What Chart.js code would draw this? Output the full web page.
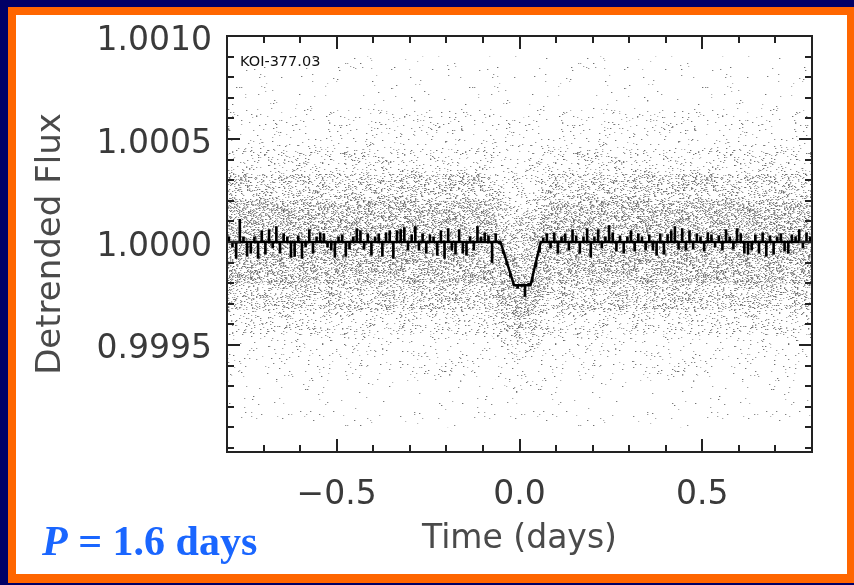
<!DOCTYPE html>
<html>
<head>
<meta charset="utf-8">
<script src="https://cdn.jsdelivr.net/npm/chart.js@4"></script>
<style>
html,body{margin:0;padding:0;width:854px;height:585px;overflow:hidden;background:#000066;}
#frame{position:absolute;left:8px;top:7px;width:846px;height:576px;background:#ff6600;}
#panel{position:absolute;left:16px;top:15px;width:831px;height:559px;background:#ffffff;}
#wrap{position:absolute;left:0;top:0;width:854px;height:585px;}
#period{position:absolute;left:42px;top:520px;font-family:"Liberation Serif","Times New Roman",serif;font-weight:bold;font-size:42px;line-height:42px;color:#1a66ff;white-space:nowrap;}
#period i{font-style:italic;}
#koi{position:absolute;left:240px;top:53px;font-family:"DejaVu Sans",sans-serif;font-size:14.5px;line-height:16px;color:#111;white-space:nowrap;}
</style>
</head>
<body>
<div id="frame"></div>
<div id="panel"></div>
<div id="wrap"><canvas id="c" width="854" height="585"></canvas></div>
<div id="koi">KOI-377.03</div>
<div id="period"><i>P</i> = 1.6 days</div>
<script>
// ---- data ----
// binned light curve: deviation from 1 in ppm, bins of 0.01 day starting at -0.795 d
const binStart = -0.795;
const binWidth = 0.01;
const binnedPpm = [
  25,-25,-80,110,25,-70,-55,25,-80,55,
  -60,60,-30,75,-55,40,25,-75,-70,30,
  -80,-25,60,-55,25,45,40,-25,-40,-75,
  25,35,-70,-35,25,65,55,-35,40,-65,
  25,40,-70,45,55,-80,55,60,70,-40,
  35,75,-40,40,-55,35,25,-65,55,-80,
  65,-40,-60,60,-55,-65,25,-40,75,25,
  45,30,-100,40,-10,-55,-110,-170,-205,-225,
  -215,-265,-200,-195,-120,-50,20,40,-30,45,
  -55,25,40,-40,60,30,-55,25,65,-75,
  25,60,-30,25,80,45,-45,30,-55,25,
  55,-45,40,25,-40,35,-40,-65,40,-60,
  35,55,75,-35,65,-40,55,-35,40,25,
  -45,45,35,-25,30,-40,60,25,-35,65,
  40,-55,-60,-40,35,-55,45,-70,30,-60,
  25,40,-45,-55,35,25,60,-30,45,25
];
// transit model
const modelT = [-0.8, -0.052, -0.015, 0.03, 0.058, 0.8];
const modelFlux = [1.0, 1.0, 0.99979, 0.99979, 1.0, 1.0];
// scatter cloud: envelopes (ppm from 1) of density bands, sparse -> dense
const cloudT = [-0.8, -0.08, -0.04, 0.0, 0.04, 0.08, 0.8];
const cloudUpperPpm = [
  [900, 900, 900, 900, 900, 900, 900],
  [650, 650, 620, 600, 620, 650, 650],
  [450, 450, 380, 330, 380, 450, 450],
  [330, 330, 200, 120, 200, 330, 330],
  [200, 200, 20, -80, 40, 200, 200]
];
const cloudLowerPpm = [
  [-900, -900, -900, -900, -900, -900, -900],
  [-650, -650, -700, -750, -700, -650, -650],
  [-450, -450, -520, -580, -530, -450, -450],
  [-330, -330, -430, -480, -440, -330, -330],
  [-200, -200, -330, -400, -340, -200, -200]
];
const bandDensity = [0.008, 0.02, 0.05, 0.11, 0.14];
// axes
const xMajorTicks = [-0.5, 0.0, 0.5];
const xTickLabels = ['\u22120.5', '0.0', '0.5'];
const xMinorTicks = [-0.7, -0.6, -0.4, -0.3, -0.2, -0.1, 0.1, 0.2, 0.3, 0.4, 0.6, 0.7];
const yMajorTicks = [0.9995, 1.0000, 1.0005, 1.0010];
const yTickLabels = ['0.9995', '1.0000', '1.0005', '1.0010'];
const yMinorTicks = [0.9990, 0.9991, 0.9992, 0.9993, 0.9994, 0.9996, 0.9997, 0.9998, 0.9999,
                     1.0001, 1.0002, 1.0003, 1.0004, 1.0006, 1.0007, 1.0008, 1.0009];

const canvas = document.getElementById('c');
const ctx = canvas.getContext('2d');

// stipple texture (styling only) for the point cloud
function makeStipple(seed, density) {
  const w = 233, h = 181;
  const tile = document.createElement('canvas');
  tile.width = w; tile.height = h;
  const tc = tile.getContext('2d');
  const img = tc.createImageData(w, h);
  const put = (i, j, g, a) => {
    const o = (j * w + (i % w)) * 4;
    if (img.data[o + 3] >= a) return;
    img.data[o] = g; img.data[o + 1] = g; img.data[o + 2] = g; img.data[o + 3] = a;
  };
  for (let j = 0; j < h; j++) {
    for (let i = 0; i < w; i++) {
      let v = Math.imul(i + seed * 131, 374761393) ^ Math.imul(j + seed * 71, 668265263);
      v = Math.imul(v ^ (v >>> 13), 1274126177);
      v ^= v >>> 16;
      const u = (v >>> 0) / 4294967296;
      if (u < density) {
        const g = 70 + Math.floor((u / density) * 100);
        put(i, j, g, 200);
        put(i + 1, j, g + 40, 90);
      }
    }
  }
  tc.putImageData(img, 0, 0);
  return ctx.createPattern(tile, 'repeat');
}

// model flux at a time (linear between model knots), used as base of the binned spikes
function modelAt(t) {
  for (let k = 0; k < modelT.length - 1; k++) {
    if (t >= modelT[k] && t <= modelT[k + 1]) {
      const f = (t - modelT[k]) / (modelT[k + 1] - modelT[k]);
      return modelFlux[k] + f * (modelFlux[k + 1] - modelFlux[k]);
    }
  }
  return 1.0;
}

const datasets = [];
datasets.push({
  type: 'bar',
  label: 'binned',
  data: binnedPpm.map((p, i) => {
    const t = binStart + i * binWidth;
    return {x: t, y: [modelAt(t), 1 + p * 1e-6]};
  }),
  backgroundColor: '#000',
  borderWidth: 0,
  borderSkipped: false,
  barThickness: 2,
  grouped: false,
  order: 1
});
datasets.push({
  type: 'line',
  label: 'model',
  data: modelT.map((t, k) => ({x: t, y: modelFlux[k]})),
  borderColor: '#000',
  borderWidth: 2.5,
  pointRadius: 0,
  fill: false,
  order: 2
});
cloudUpperPpm.forEach((up, b) => {
  datasets.push({
    type: 'line',
    label: 'cloudUp' + b,
    data: cloudT.map((t, k) => ({x: t, y: 1 + up[k] * 1e-6})),
    borderWidth: 0,
    borderColor: 'rgba(0,0,0,0)',
    pointRadius: 0,
    fill: '+1',
    backgroundColor: makeStipple(b + 3, bandDensity[b]),
    order: 10 + b
  });
  datasets.push({
    type: 'line',
    label: 'cloudLo' + b,
    data: cloudT.map((t, k) => ({x: t, y: 1 + cloudLowerPpm[b][k] * 1e-6})),
    borderWidth: 0,
    borderColor: 'rgba(0,0,0,0)',
    pointRadius: 0,
    fill: false,
    order: 10 + b
  });
});

const frameTicks = {
  id: 'frameTicks',
  afterDatasetsDraw(chart) {
    const {ctx, chartArea: a, scales: {x, y}} = chart;
    ctx.save();
    ctx.strokeStyle = '#222';
    ctx.lineWidth = 2;
    ctx.strokeRect(a.left, a.top, a.right - a.left, a.bottom - a.top);
    const drawX = (v, len) => {
      const px = Math.round(x.getPixelForValue(v));
      ctx.beginPath();
      ctx.moveTo(px, a.bottom); ctx.lineTo(px, a.bottom - len);
      ctx.moveTo(px, a.top); ctx.lineTo(px, a.top + len);
      ctx.stroke();
    };
    const drawY = (v, len) => {
      const py = Math.round(y.getPixelForValue(v));
      if (py < a.top - 1 || py > a.bottom + 1) return;
      ctx.beginPath();
      ctx.moveTo(a.left, py); ctx.lineTo(a.left + len, py);
      ctx.moveTo(a.right, py); ctx.lineTo(a.right - len, py);
      ctx.stroke();
    };
    xMinorTicks.forEach(v => drawX(v, 7));
    xMajorTicks.forEach(v => drawX(v, 13));
    yMinorTicks.forEach(v => drawY(v, 7));
    yMajorTicks.forEach(v => drawY(v, 13));
    ctx.restore();
  }
};

new Chart(ctx, {
  type: 'line',
  data: {datasets},
  plugins: [frameTicks],
  options: {
    responsive: false,
    animation: false,
    devicePixelRatio: 1,
    layout: {padding: {left: 0, top: 36, right: 42, bottom: 0}},
    plugins: {legend: {display: false}, tooltip: {enabled: false}},
    scales: {
      x: {
        type: 'linear',
        offset: false,
        min: -0.8, max: 0.8,
        afterBuildTicks: s => { s.ticks = xMajorTicks.map(v => ({value: v})); },
        afterFit: s => { s.height = 133; },
        grid: {display: false, drawTicks: false, offset: false},
        border: {display: false},
        ticks: {
          autoSkip: false, maxRotation: 0,
          callback: (v, i) => xTickLabels[i],
          font: {family: 'DejaVu Sans', size: 33},
          color: '#3a3a3a',
          padding: 24
        },
        title: {
          display: true, text: 'Time (days)',
          font: {family: 'DejaVu Sans', size: 33},
          color: '#4a4a4a',
          padding: {top: 0, bottom: 26}
        }
      },
      y: {
        type: 'linear',
        min: 0.99898, max: 1.0010,
        afterBuildTicks: s => { s.ticks = yMajorTicks.map(v => ({value: v})); },
        afterFit: s => { s.width = 227; },
        grid: {display: false, drawTicks: false},
        border: {display: false},
        ticks: {
          autoSkip: false,
          callback: (v, i) => yTickLabels[i],
          font: {family: 'DejaVu Sans', size: 33},
          color: '#3a3a3a',
          padding: 15,
          labelOffset: 5
        },
        title: {
          display: true, text: 'Detrended Flux',
          font: {family: 'DejaVu Sans', size: 34},
          color: '#4a4a4a',
          padding: {top: 31, bottom: 0}
        }
      }
    }
  }
});
</script>
</body>
</html>
